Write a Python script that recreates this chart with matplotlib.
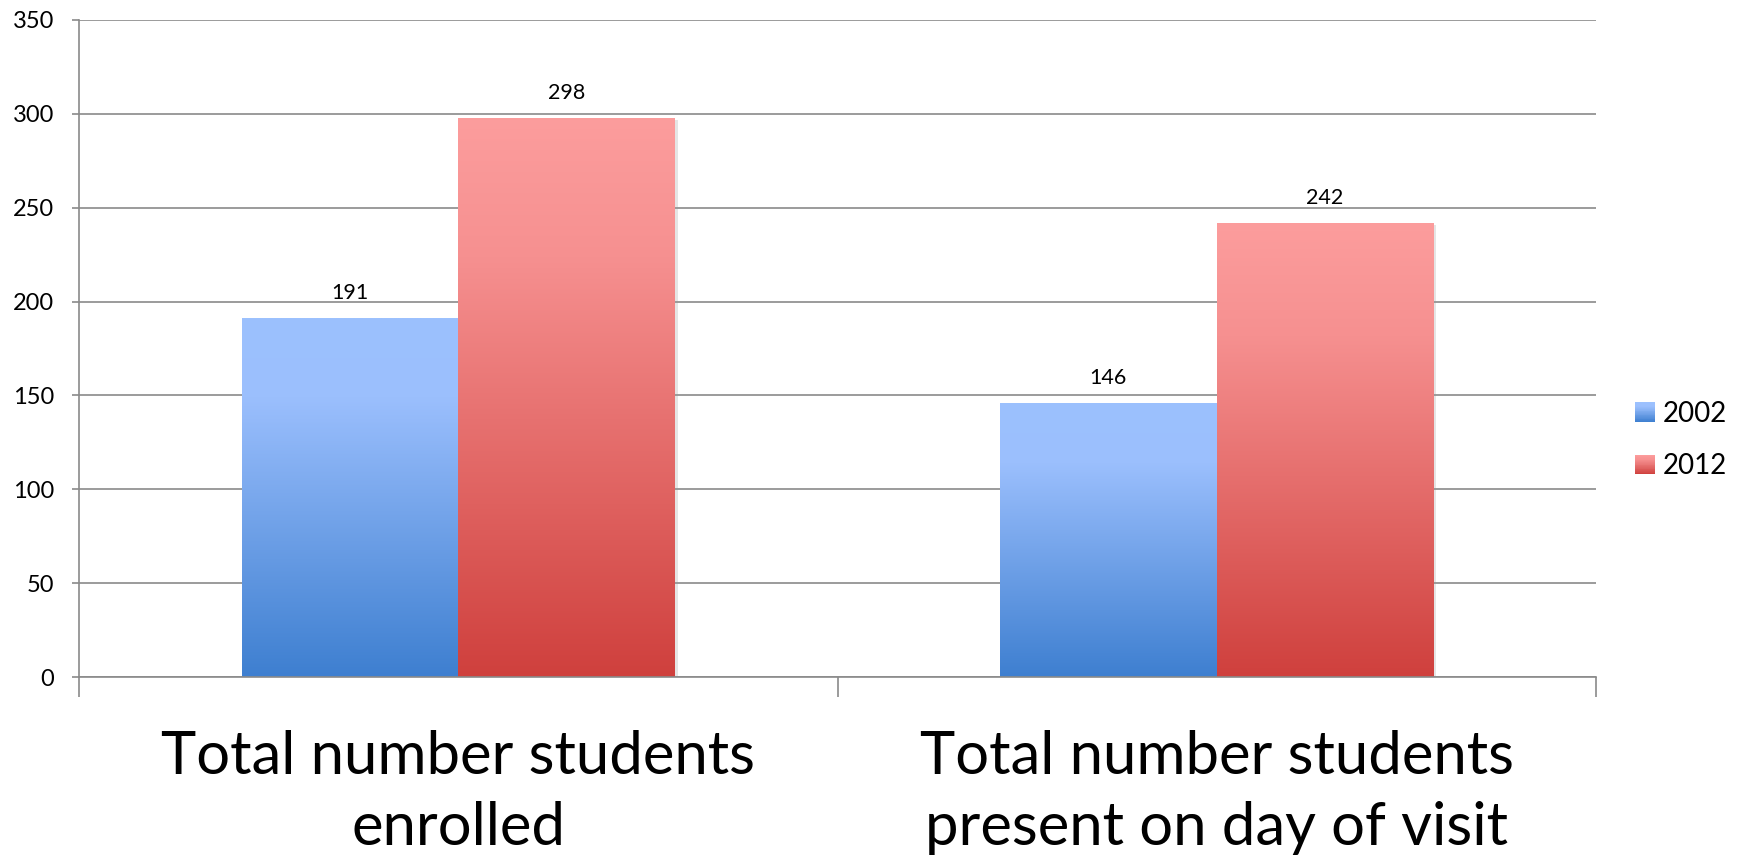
import matplotlib
matplotlib.use("Agg")
import matplotlib.pyplot as plt
import numpy as np
from matplotlib.colors import LinearSegmentedColormap
from matplotlib.legend_handler import HandlerBase
from matplotlib.patches import Rectangle, Patch
import matplotlib.patheffects as pe

plt.rcParams['font.family'] = ['Lato', 'DejaVu Sans']

# data
categories = ["Total number students\nenrolled", "Total number students\npresent on day of visit"]
years = ["2002", "2012"]
values_2002 = [191, 146]
values_2012 = [298, 242]
yticks = [0, 50, 100, 150, 200, 250, 300, 350]

# gradients: bottom (dark) -> top (light)
blue_cmap = LinearSegmentedColormap.from_list(
    "blue", [(0.0, "#3e7fd0"), (0.78, "#9bbffd"), (1.0, "#9cc1fe")])
red_cmap = LinearSegmentedColormap.from_list(
    "red", [(0.0, "#cf403d"), (0.75, "#f69090"), (1.0, "#fc9d9d")])

fig = plt.figure(figsize=(17.45, 8.68), dpi=100)
ax = fig.add_axes([0.0453, 0.22, 0.8693, 0.757])

grid_col = "#8a8a8a"
w = 0.2857
x = np.arange(len(categories))
grad = np.linspace(0, 1, 256).reshape(-1, 1)


def gradient_bars(xpos, vals, cmap):
    bars = ax.bar(xpos, vals, w, facecolor="none", edgecolor="none", zorder=2,
                  path_effects=[pe.SimplePatchShadow(offset=(2, -2), alpha=0.25, rho=0.6),
                                pe.Normal()])
    for b, v in zip(bars, vals):
        bx, by = b.get_x(), b.get_y()
        bw, bh = b.get_width(), b.get_height()
        im = ax.imshow(grad, cmap=cmap, origin="lower", aspect="auto",
                       extent=[bx, bx + bw, by, by + bh], zorder=2.5)
        im.set_clip_path(b)
        ax.text(bx + bw / 2, bh + 8, str(v),
                ha="center", va="bottom", fontsize=15.5, color="black")
    return bars


gradient_bars(x - w / 2, values_2002, blue_cmap)
gradient_bars(x + w / 2, values_2012, red_cmap)

ax.set_xlim(-0.5, len(categories) - 0.5)
ax.set_ylim(0, 350)
ax.set_yticks(yticks)
ax.set_yticklabels([str(t) for t in yticks], fontsize=17)
ax.yaxis.grid(True, color=grid_col, linewidth=1.2)
ax.set_axisbelow(True)
ax.tick_params(axis="y", length=5, width=1.2, color=grid_col, pad=13)

ax.set_xticks(x)
ax.set_xticklabels(categories, fontsize=43, linespacing=1.4)
ax.set_xticks(np.arange(len(categories) + 1) - 0.5, minor=True)
ax.tick_params(axis="x", which="major", length=0, pad=38)
ax.tick_params(axis="x", which="minor", length=14.5, width=1.2, color=grid_col)

for s in ["top", "right"]:
    ax.spines[s].set_visible(False)
ax.spines["left"].set_color(grid_col)
ax.spines["left"].set_linewidth(1.2)
ax.spines["bottom"].set_color(grid_col)
ax.spines["bottom"].set_linewidth(1.2)


class GradientHandler(HandlerBase):
    def __init__(self, cmap):
        super().__init__()
        self.cmap = cmap

    def create_artists(self, legend, orig_handle, xdescent, ydescent,
                       width, height, fontsize, trans):
        n = 24
        arts = []
        for i in range(n):
            r = Rectangle((-xdescent, -ydescent + height * i / n), width, height / n + 0.05,
                          facecolor=self.cmap((i + 0.5) / n), edgecolor="none",
                          transform=trans)
            arts.append(r)
        return arts


h1 = Patch(label=years[0])
h2 = Patch(label=years[1])
fig.legend([h1, h2], years, loc="center left", bbox_to_anchor=(0.937, 0.493),
           frameon=False, fontsize=20, handlelength=0.7, handleheight=0.7,
           handletextpad=0.3, labelspacing=0.95, borderpad=0, borderaxespad=0,
           handler_map={h1: GradientHandler(blue_cmap), h2: GradientHandler(red_cmap)})

fig.savefig("out.png", dpi=100)
